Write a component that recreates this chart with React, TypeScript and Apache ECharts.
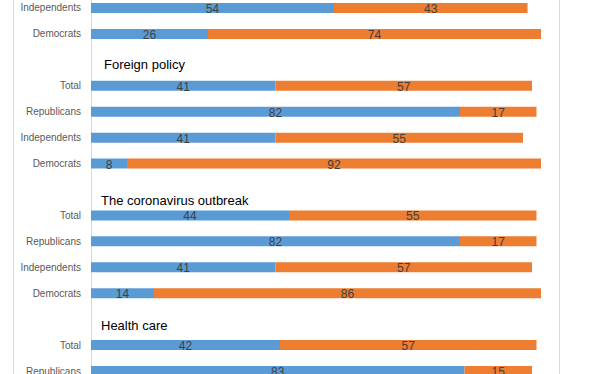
import React, { useEffect, useRef } from "react";
import * as echarts from "echarts";

// Rows top to bottom (blank "" rows hold section titles)
const categories = [
  "Independents", "Democrats", "",
  "Total", "Republicans", "Independents", "Democrats", "",
  "Total", "Republicans", "Independents", "Democrats", "",
  "Total", "Republicans",
];
const approveValues: (number | null)[] = [
  54, 26, null,
  41, 82, 41, 8, null,
  44, 82, 41, 14, null,
  42, 83,
];
const disapproveValues: (number | null)[] = [
  43, 74, null,
  57, 17, 55, 92, null,
  55, 17, 57, 86, null,
  57, 15,
];
const sectionTitles = ["Foreign policy", "The coronavirus outbreak", "Health care"];
const sectionRowIndex = [2, 7, 12];

export default function App() {
  const ref = useRef<HTMLDivElement>(null);
  useEffect(() => {
    document.body.style.margin = "0";
    const chart = echarts.init(ref.current!, null, { renderer: "svg" });
    const labelStyle = {
      show: true,
      position: "inside" as const,
      color: "#404040",
      fontSize: 12,
      fontFamily: "Liberation Sans",
      offset: [0, 1],
      formatter: (p: any) => (p.value == null ? "" : String(p.value)),
    };
    chart.setOption({
      animation: false,
      grid: { left: 91, right: 56, top: 0, height: 389, containLabel: false },
      xAxis: { type: "value", min: 0, max: 100, show: false },
      yAxis: {
        type: "category",
        inverse: true,
        data: categories,
        axisLine: { show: true, lineStyle: { color: "#d9d9d9", width: 1 } },
        axisTick: { show: false },
        axisLabel: {
          color: "#595959",
          fontSize: 10,
          fontFamily: "Liberation Sans",
          margin: 10,
        },
        splitLine: { show: false },
      },
      series: [
        {
          type: "bar",
          stack: "s",
          data: approveValues,
          barWidth: 10,
          itemStyle: { color: "#5B9BD5" },
          label: labelStyle,
        },
        {
          type: "bar",
          stack: "s",
          data: disapproveValues,
          barWidth: 10,
          itemStyle: { color: "#ED7D31" },
          label: labelStyle,
        },
      ],
    });
    const titleOffsets = [5, 11, 6];
    const titleX = [104, 101, 101];
    const graphics: any[] = [
      {
        type: "rect",
        shape: { x: 13.5, y: -20, width: 546, height: 440 },
        style: { fill: "none", stroke: "#d9d9d9", lineWidth: 1 },
        silent: true,
      },
    ];
    sectionTitles.forEach((t, i) => {
      const y = chart.convertToPixel({ yAxisIndex: 0 }, sectionRowIndex[i]) as number;
      graphics.push({
        type: "text",
        x: titleX[i],
        y: y + titleOffsets[i],
        style: {
          text: t,
          fill: "#000000",
          fontSize: 13,
          fontFamily: "Liberation Sans",
          verticalAlign: "middle",
          align: "left",
        },
      });
    });
    chart.setOption({ graphic: graphics });
    return () => chart.dispose();
  }, []);
  return (
    <div style={{ position: "relative", width: 597, height: 374, overflow: "hidden" }}>
      <div ref={ref} style={{ position: "absolute", left: 0, top: -5, width: 597, height: 394 }} />
    </div>
  );
}
